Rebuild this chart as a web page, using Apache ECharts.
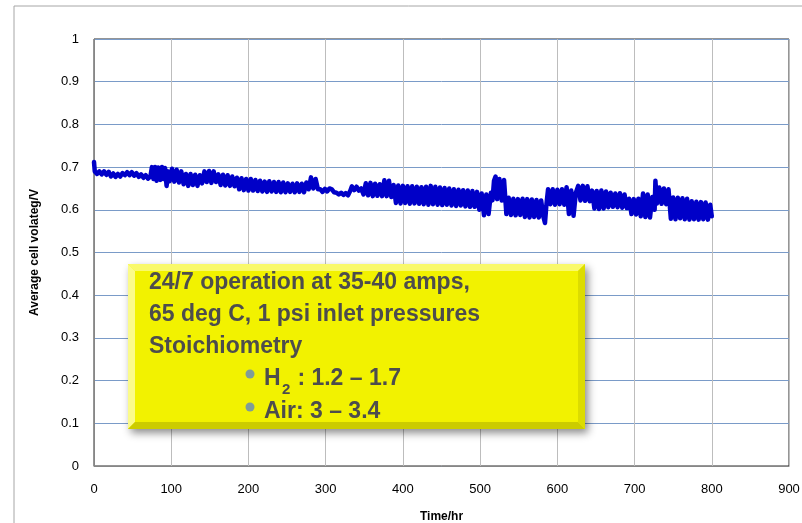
<!DOCTYPE html>
<html>
<head>
<meta charset="utf-8">
<script src="https://cdn.jsdelivr.net/npm/echarts@6/dist/echarts.min.js"></script>
<style>
  html, body { margin: 0; padding: 0; background: #fff; }
  #chart { width: 802px; height: 523px; }
</style>
</head>
<body>
<div id="chart"></div>
<script>
// axis ticks
const xTicks = [0, 100, 200, 300, 400, 500, 600, 700, 800, 900];
const yTicks = [0, 0.1, 0.2, 0.3, 0.4, 0.5, 0.6, 0.7, 0.8, 0.9, 1];

// annotation text
const noteLines = [
  '24/7 operation at 35-40 amps,',
  '65 deg C, 1 psi inlet pressures',
  'Stoichiometry'
];
const h2Text = ' : 1.2 \u2013 1.7';
const airText = 'Air: 3 \u2013 3.4';

// [time in hr, average cell voltage in V] (noisy band)
const voltage = [
  [0,0.712],[1,0.69],[4,0.684],[7,0.69],[10,0.683],[13,0.69],[16,0.682],[19,0.689],[22,0.678],[25,0.685],
  [28,0.677],[31,0.684],[34,0.678],[37,0.686],[40,0.681],[43,0.688],[46,0.681],[49,0.688],[52,0.68],[55,0.686],
  [58,0.677],[61,0.683],[64,0.675],[67,0.681],[70,0.673],[73,0.678],[75,0.70],[77,0.672],[79,0.70],[81,0.668],
  [83,0.699],[86,0.67],[88,0.70],[90,0.672],[92,0.698],[94,0.656],[96,0.69],[98,0.667],
  [101,0.696],[104,0.666],[107,0.694],[110,0.664],[113,0.69],[116,0.66],[119,0.684],[122,0.656],[125,0.684],[128,0.658],
  [131,0.682],[134,0.656],[137,0.681],[140,0.662],[143,0.69],[146,0.665],[149,0.691],[152,0.663],[155,0.69],[158,0.665],
  [161,0.683],[164,0.658],[167,0.682],[170,0.657],[173,0.681],[176,0.656],[179,0.678],[182,0.655],[185,0.675],
  [188,0.648],[191,0.674],[194,0.646],[197,0.672],[200,0.645],[203,0.672],[206,0.645],[209,0.67],[212,0.644],[215,0.668],
  [218,0.643],[221,0.666],[224,0.642],[227,0.667],[230,0.643],[233,0.665],[236,0.642],[239,0.665],[242,0.641],[245,0.664],
  [248,0.641],[251,0.662],[254,0.642],[257,0.661],[260,0.641],[263,0.662],[266,0.642],[269,0.661],[272,0.641],[275,0.664],
  [278,0.648],[281,0.676],[284,0.65],[287,0.672],[290,0.648],[293,0.648],[296,0.642],[299,0.649],[302,0.643],[305,0.65],
  [308,0.648],[311,0.641],[314,0.64],[317,0.636],[320,0.64],[323,0.635],[326,0.639],[329,0.634],[332,0.645],[334,0.655],
  [337,0.646],[340,0.654],[343,0.645],[346,0.65],[349,0.636],[352,0.662],[355,0.634],[358,0.663],[361,0.632],[364,0.661],
  [367,0.633],[370,0.66],[373,0.632],[376,0.669],[379,0.632],[382,0.668],[385,0.63],
  [388,0.658],[391,0.616],[394,0.657],[397,0.615],[400,0.656],[403,0.616],[406,0.655],[409,0.614],[412,0.655],[415,0.615],
  [418,0.654],[421,0.614],[424,0.653],[427,0.613],[430,0.654],[433,0.612],[436,0.656],[439,0.613],[442,0.654],[445,0.612],
  [448,0.652],[451,0.611],[454,0.651],[457,0.612],[460,0.65],[463,0.61],[466,0.648],[469,0.609],[472,0.647],[475,0.61],
  [478,0.646],[481,0.608],[484,0.645],[487,0.607],[490,0.644],[493,0.607],[496,0.642],[499,0.6],[502,0.638],[505,0.587],
  [508,0.636],[511,0.59],[514,0.64],[516,0.622],[518,0.668],[520,0.678],[522,0.625],[525,0.672],[528,0.622],[531,0.67],
  [534,0.59],[537,0.628],[540,0.588],[543,0.626],[546,0.587],[549,0.625],[552,0.588],[555,0.626],[558,0.583],[561,0.625],
  [564,0.582],[567,0.624],[570,0.583],[573,0.623],[576,0.582],[579,0.622],[582,0.583],[584,0.569],[586,0.615],
  [588,0.648],[591,0.613],[594,0.648],[597,0.612],[600,0.647],[603,0.613],[606,0.648],[609,0.612],
  [612,0.653],[615,0.59],[618,0.645],[621,0.586],[624,0.64],[627,0.656],[630,0.622],[633,0.656],[636,0.621],[639,0.655],
  [642,0.62],[645,0.645],[648,0.603],[651,0.644],[654,0.602],[657,0.645],[660,0.603],[663,0.643],
  [666,0.606],[669,0.64],[672,0.607],[675,0.638],[678,0.606],[681,0.639],[684,0.605],[687,0.636],[690,0.604],
  [693,0.626],[696,0.59],[699,0.625],[702,0.589],[705,0.626],[708,0.585],[711,0.638],[714,0.583],[717,0.636],[720,0.582],
  [723,0.63],[726,0.6],[727,0.668],[729,0.615],[732,0.652],[735,0.614],[738,0.65],[741,0.613],[744,0.648],
  [747,0.579],[750,0.629],[753,0.578],[756,0.628],[759,0.58],[762,0.627],[765,0.578],[768,0.626],[771,0.577],
  [774,0.62],[777,0.578],[780,0.619],[783,0.577],[786,0.618],[789,0.578],[792,0.617],[795,0.577],[798,0.612],[800,0.585]
];

const labelFont = "'Liberation Sans', Arial, sans-serif";
const noteFont = "bold 23px 'Liberation Sans', Arial, sans-serif";
const noteColor = '#4d4d4d';

// yellow bevelled box
const bx1 = 128, by1 = 264, bx2 = 585, by2 = 429, bv = 7;
const zTop = 200;

const chart = echarts.init(document.getElementById('chart'));
chart.setOption({
  animation: false,
  grid: {
    left: 94, top: 39, right: 13, bottom: 57,
    outerBoundsMode: 'none',
    show: true, borderColor: '#2b2b2b', borderWidth: 1
  },
  xAxis: {
    type: 'value',
    min: xTicks[0],
    max: xTicks[xTicks.length - 1],
    interval: 100,
    name: 'Time/hr',
    nameLocation: 'middle',
    nameGap: 45,
    nameTextStyle: { fontFamily: labelFont, fontWeight: 'bold', fontSize: 12, color: '#000' },
    axisLine: { lineStyle: { color: '#868686' } },
    axisTick: { show: false },
    axisLabel: { fontFamily: labelFont, fontSize: 13, color: '#000', margin: 17 },
    splitLine: { lineStyle: { color: '#bdbdbd', width: 1 } }
  },
  yAxis: {
    type: 'value',
    min: yTicks[0],
    max: yTicks[yTicks.length - 1],
    interval: 0.1,
    name: 'Average cell volateg/V',
    nameLocation: 'middle',
    nameGap: 53,
    nameTextStyle: { fontFamily: labelFont, fontWeight: 'bold', fontSize: 12, color: '#000' },
    axisLine: { show: true, lineStyle: { color: '#868686' } },
    axisTick: { show: false },
    axisLabel: {
      fontFamily: labelFont, fontSize: 13, color: '#000', margin: 15,
      formatter: v => String(Math.round(v * 10) / 10)
    },
    splitLine: { lineStyle: { color: '#7a9bc8', width: 1 } }
  },
  series: [{
    type: 'line',
    data: voltage,
    showSymbol: false,
    lineStyle: { color: '#0000c8', width: 4.5, join: 'round', cap: 'round' },
    z: 3
  }],
  graphic: [
    // outer chart frame
    { type: 'rect', z: -10, shape: { x: 14, y: 6, width: 800, height: 530 }, style: { fill: 'none', stroke: '#a6a6a6', lineWidth: 1 }, silent: true },
    {
      type: 'rect', z: zTop, shape: { x: bx1, y: by1, width: bx2 - bx1, height: by2 - by1 },
      style: { fill: '#f2f200', shadowBlur: 8, shadowOffsetX: 3, shadowOffsetY: 4, shadowColor: 'rgba(0,0,0,0.45)' }
    },
    { type: 'polygon', z: zTop, shape: { points: [[bx1, by1], [bx2, by1], [bx2 - bv, by1 + bv], [bx1 + bv, by1 + bv]] }, style: { fill: '#f9f96a' } },
    { type: 'polygon', z: zTop, shape: { points: [[bx1, by1], [bx1 + bv, by1 + bv], [bx1 + bv, by2 - bv], [bx1, by2]] }, style: { fill: '#fbfb8a' } },
    { type: 'polygon', z: zTop, shape: { points: [[bx1, by2], [bx1 + bv, by2 - bv], [bx2 - bv, by2 - bv], [bx2, by2]] }, style: { fill: '#cccc00' } },
    { type: 'polygon', z: zTop, shape: { points: [[bx2, by1], [bx2, by2], [bx2 - bv, by2 - bv], [bx2 - bv, by1 + bv]] }, style: { fill: '#dcdc00' } },
    { type: 'text', z: zTop + 1, style: { text: noteLines[0], x: 149, y: 283, font: noteFont, fill: noteColor, verticalAlign: 'middle' } },
    { type: 'text', z: zTop + 1, style: { text: noteLines[1], x: 149, y: 315, font: noteFont, fill: noteColor, verticalAlign: 'middle' } },
    { type: 'text', z: zTop + 1, style: { text: noteLines[2], x: 149, y: 347, font: noteFont, fill: noteColor, verticalAlign: 'middle' } },
    { type: 'circle', z: zTop + 1, shape: { cx: 250, cy: 374, r: 4.5 }, style: { fill: '#7f9c98' } },
    { type: 'text', z: zTop + 1, style: { text: 'H', x: 264, y: 379, font: noteFont, fill: noteColor, verticalAlign: 'middle' } },
    { type: 'text', z: zTop + 1, style: { text: '2', x: 282, y: 390, font: "bold 15px 'Liberation Sans', Arial, sans-serif", fill: noteColor, verticalAlign: 'middle' } },
    { type: 'text', z: zTop + 1, style: { text: h2Text, x: 291, y: 379, font: noteFont, fill: noteColor, verticalAlign: 'middle' } },
    { type: 'circle', z: zTop + 1, shape: { cx: 250, cy: 407, r: 4.5 }, style: { fill: '#7f9c98' } },
    { type: 'text', z: zTop + 1, style: { text: airText, x: 264, y: 412, font: noteFont, fill: noteColor, verticalAlign: 'middle' } }
  ]
});
</script>
</body>
</html>
